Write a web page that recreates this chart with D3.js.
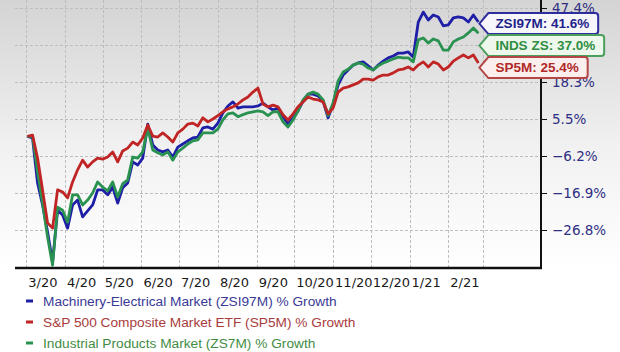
<!DOCTYPE html>
<html>
<head>
<meta charset="utf-8">
<script src="https://cdn.jsdelivr.net/npm/d3@7/dist/d3.min.js"></script>
<style>
  body { margin: 0; background: #fff; }
  svg { display: block; }
</style>
</head>
<body>
<div id="chart"></div>
<script>
const START_DATE = new Date(2020, 2, 2);
const STEP_DAYS = 4;

const ZSI97M_GROWTH = [
  0, -0.5, -14.0, -20.1, -27.3, -35.4, -21.5, -22.8, -26.3, -20.1,
  -18.8, -23.3, -21.7, -20.1, -16.0, -16.0, -17.4, -15.2, -19.6, -15.4,
  -14.0, -7.9, -8.8, -6.8, 3.9, -2.7, -4.3, -4.9, -4.3, -6.5,
  -3.4, -2.4, -1.4, -0.5, -0.2, 2.7, 3.0, 2.3, 4.2, 7.6,
  10.0, 11.4, 9.3, 9.7, 9.7, 9.7, 10.0, 11.0, 9.7, 8.6,
  9.3, 6.3, 3.9, 5.9, 8.3, 11.7, 14.1, 14.1, 13.5, 11.7,
  5.9, 10.7, 17.3, 20.9, 22.8, 24.6, 25.4, 25.8, 24.3, 22.8,
  24.6, 26.1, 27.3, 28.0, 29.1, 29.1, 29.5, 27.6, 41.6, 45.7,
  42.4, 44.5, 43.7, 40.0, 40.4, 43.3, 43.7, 43.3, 41.6, 44.5,
  41.6
];

const SP5M_GROWTH = [
  0, 0.4, -6.8, -16.0, -24.9, -26.3, -16.0, -16.6, -18.2, -13.7,
  -10.2, -7.4, -9.4, -7.9, -6.8, -7.1, -6.5, -4.9, -7.9, -4.6,
  -3.7, -1.8, -2.7, -0.5, 3.6, 0.1, -0.2, 1.1, -0.2, -1.8,
  1.1, 2.3, 3.9, 4.2, 3.3, 5.9, 4.6, 5.5, 6.7, 8.0,
  9.0, 9.7, 10.7, 12.1, 13.1, 14.8, 16.2, 10.7, 9.7, 10.3,
  9.7, 7.0, 5.2, 7.3, 9.7, 11.4, 13.1, 12.4, 12.1, 11.4,
  7.3, 9.3, 14.8, 16.2, 16.6, 17.3, 18.0, 19.4, 19.4, 19.0,
  20.2, 20.9, 20.9, 21.7, 22.8, 23.1, 23.9, 22.8, 24.6, 25.8,
  23.9, 25.8, 25.0, 22.8, 23.9, 26.1, 27.3, 28.4, 27.3, 28.4,
  25.4
];

const ZS7M_GROWTH = [
  0, 0.1, -10.8, -19.6, -28.7, -36.2, -20.7, -21.5, -24.7, -17.4,
  -17.4, -20.1, -18.8, -16.9, -13.7, -15.2, -16.3, -13.7, -18.0, -14.2,
  -13.1, -6.5, -6.8, -4.9, 2.7, -4.3, -5.2, -5.9, -4.9, -7.4,
  -4.9, -3.7, -2.4, -1.4, -1.1, 1.1, 1.1, 1.1, 2.3, 5.2,
  7.3, 7.6, 6.3, 7.0, 7.6, 8.0, 8.3, 8.0, 6.7, 8.0,
  8.0, 4.6, 3.0, 5.2, 8.3, 12.1, 14.1, 14.8, 14.1, 12.1,
  6.7, 11.0, 18.7, 22.0, 23.1, 24.6, 25.4, 25.0, 23.5, 22.8,
  24.3, 25.4, 26.1, 26.9, 27.6, 27.3, 27.3, 25.8, 34.2, 35.0,
  32.9, 34.6, 33.8, 30.2, 30.2, 33.4, 34.6, 35.4, 37.1, 39.1,
  37.0
];

// gridline values; the 32.1% label sits behind the callouts in the original, so it is not printed
const Y_TICKS = [47.4, 32.1, 18.3, 5.5, -6.2, -16.9, -26.8];
const Y_LABELLED = [47.4, 18.3, 5.5, -6.2, -16.9, -26.8];
const X_TICK_FORMAT = '%-m/%y';

const SERIES_KEYS = ['ZSI97M', 'SP5M', 'ZS7M'];
const LEGEND_LABELS = [
  'Machinery-Electrical Market (ZSI97M) % Growth',
  'S&P 500 Composite Market ETF (SP5M) % Growth',
  'Industrial Products Market (ZS7M) % Growth'
];
const CALLOUT_NAMES = ['ZSI97M', 'SP5M', 'INDS ZS'];

const COLORS = {
  ZSI97M: { line: '#1e1ea6', text: '#3a3a96', box: '#f6f6fb', border: '#2d2d9e', label: '#1f1f8a' },
  SP5M:   { line: '#c02424', text: '#a83c3c', box: '#fbefed', border: '#b44646', label: '#b02828' },
  ZS7M:   { line: '#2a9250', text: '#3f8c45', box: '#edf7ec', border: '#4c9e5c', label: '#2f8e42' }
};

const WIDTH = 620, HEIGHT = 352;
const PLOT = { left: 15, right: 541, top: 8, bottom: 268, step: 37 };

const growth = { ZSI97M: ZSI97M_GROWTH, SP5M: SP5M_GROWTH, ZS7M: ZS7M_GROWTH };
const dates = ZSI97M_GROWTH.map((_, i) => d3.timeDay.offset(START_DATE, i * STEP_DAYS));

const svg = d3.select('#chart').append('svg')
  .attr('width', WIDTH)
  .attr('height', HEIGHT);

// background gradient
const defs = svg.append('defs');
const grad = defs.append('linearGradient')
  .attr('id', 'bg').attr('x1', 0).attr('y1', 0).attr('x2', 0).attr('y2', 1);
grad.append('stop').attr('offset', '0%').attr('stop-color', '#d4d4d4');
grad.append('stop').attr('offset', '55%').attr('stop-color', '#f1f1f1');
grad.append('stop').attr('offset', '100%').attr('stop-color', '#ffffff');
svg.append('rect')
  .attr('x', 0).attr('y', 0)
  .attr('width', WIDTH).attr('height', PLOT.bottom)
  .attr('fill', 'url(#bg)');

const x = d3.scaleTime()
  .domain([new Date(2020, 1, 21), new Date(2021, 3, 16)])
  .range([PLOT.left, PLOT.right]);

// tick values are log-like, so map them piecewise onto evenly spaced gridlines
const y = d3.scaleLinear()
  .domain(Y_TICKS)
  .range(Y_TICKS.map((d, i) => PLOT.top + i * PLOT.step));

// gridlines
const months = d3.timeMonth.range(new Date(2020, 2, 1), new Date(2021, 2, 2));
svg.append('g')
  .selectAll('line')
  .data(months)
  .join('line')
  .attr('x1', d => Math.round(x(d)) + 0.5)
  .attr('x2', d => Math.round(x(d)) + 0.5)
  .attr('y1', 0)
  .attr('y2', PLOT.bottom)
  .attr('stroke', '#bdbdbd')
  .attr('stroke-dasharray', '3,2');

svg.append('g')
  .selectAll('line')
  .data(Y_TICKS)
  .join('line')
  .attr('x1', PLOT.left)
  .attr('x2', PLOT.right)
  .attr('y1', d => Math.round(y(d)) + 0.5)
  .attr('y2', d => Math.round(y(d)) + 0.5)
  .attr('stroke', '#bdbdbd')
  .attr('stroke-dasharray', '3,2');

// series lines
const line = d3.line()
  .x((d, i) => x(dates[i]))
  .y(d => y(d));

['ZSI97M', 'ZS7M', 'SP5M'].forEach(key => {
  svg.append('path')
    .datum(growth[key])
    .attr('fill', 'none')
    .attr('stroke', COLORS[key].line)
    .attr('stroke-width', 2.8)
    .attr('stroke-linejoin', 'round')
    .attr('d', line);
});

// axes frame
svg.append('line')
  .attr('x1', PLOT.left).attr('x2', PLOT.right + 1)
  .attr('y1', PLOT.bottom).attr('y2', PLOT.bottom)
  .attr('stroke', '#111').attr('stroke-width', 2.5);
svg.append('line')
  .attr('x1', PLOT.right).attr('x2', PLOT.right)
  .attr('y1', 0).attr('y2', PLOT.bottom + 1)
  .attr('stroke', '#111').attr('stroke-width', 2);

// right y ticks and labels
const yAxis = svg.append('g');
yAxis.selectAll('line')
  .data(Y_TICKS)
  .join('line')
  .attr('x1', PLOT.right).attr('x2', PLOT.right + 6)
  .attr('y1', d => Math.round(y(d)) + 0.5)
  .attr('y2', d => Math.round(y(d)) + 0.5)
  .attr('stroke', '#111');
yAxis.selectAll('text')
  .data(Y_LABELLED)
  .join('text')
  .attr('x', PLOT.right + 11)
  .attr('y', d => y(d))
  .attr('dy', '0.36em')
  .style('font', '13.5px "DejaVu Sans", Verdana, sans-serif')
  .style('fill', '#2e2e82')
  .text(d => d3.format('.1f')(d) + '%');

// bottom month labels
svg.append('g')
  .selectAll('text')
  .data(months.slice(0, 12))
  .join('text')
  .attr('x', d => x(d) + 2)
  .attr('y', 287)
  .style('font', '13px "DejaVu Sans", Verdana, sans-serif')
  .style('fill', '#1a1a1a')
  .text(d => d3.timeFormat(X_TICK_FORMAT)(d));

// legend
const legend = svg.append('g');
SERIES_KEYS.forEach((key, i) => {
  const ly = 301 + i * 21;
  legend.append('rect')
    .attr('x', 26).attr('y', ly - 1.5)
    .attr('width', 7).attr('height', 3)
    .attr('fill', COLORS[key].line);
  legend.append('text')
    .attr('x', 43).attr('y', ly + 5)
    .style('font', '13.7px "Liberation Sans", Arial, sans-serif')
    .style('fill', COLORS[key].text)
    .text(LEGEND_LABELS[i]);
});

// end-value callouts, stacked so they don't overlap
const lastIdx = dates.length - 1;
const callouts = ['ZSI97M', 'ZS7M', 'SP5M'].map(key => ({
  key,
  value: growth[key][lastIdx],
  name: CALLOUT_NAMES[SERIES_KEYS.indexOf(key)]
})).sort((a, b) => b.value - a.value);

let prevY = -Infinity;
const BOX_H = 21, GAP = 22;
callouts.forEach(c => {
  let cy = Math.max(y(c.value) + 1.5, prevY + GAP);
  prevY = cy;
  const tipX = x(dates[lastIdx]) + 1;
  const bodyX = tipX + 9;
  const g = svg.append('g');
  const path = g.append('path');
  const txt = g.append('text')
    .attr('x', bodyX + 7)
    .attr('y', cy)
    .attr('dy', '0.36em')
    .style('font', 'bold 13.5px "Liberation Sans", Arial, sans-serif')
    .style('fill', COLORS[c.key].label)
    .text(`${c.name}: ${d3.format('.1f')(c.value)}%`);
  const right = bodyX + 7 + txt.node().getComputedTextLength() + 9;
  const h = BOX_H / 2;
  path
    .attr('d', `M${tipX},${cy} L${bodyX},${cy - h} L${right - 3},${cy - h} Q${right},${cy - h} ${right},${cy - h + 3} ` +
      `L${right},${cy + h - 3} Q${right},${cy + h} ${right - 3},${cy + h} L${bodyX},${cy + h} Z`)
    .attr('fill', COLORS[c.key].box)
    .attr('stroke', COLORS[c.key].border)
    .attr('stroke-width', 2);
});
</script>
</body>
</html>
